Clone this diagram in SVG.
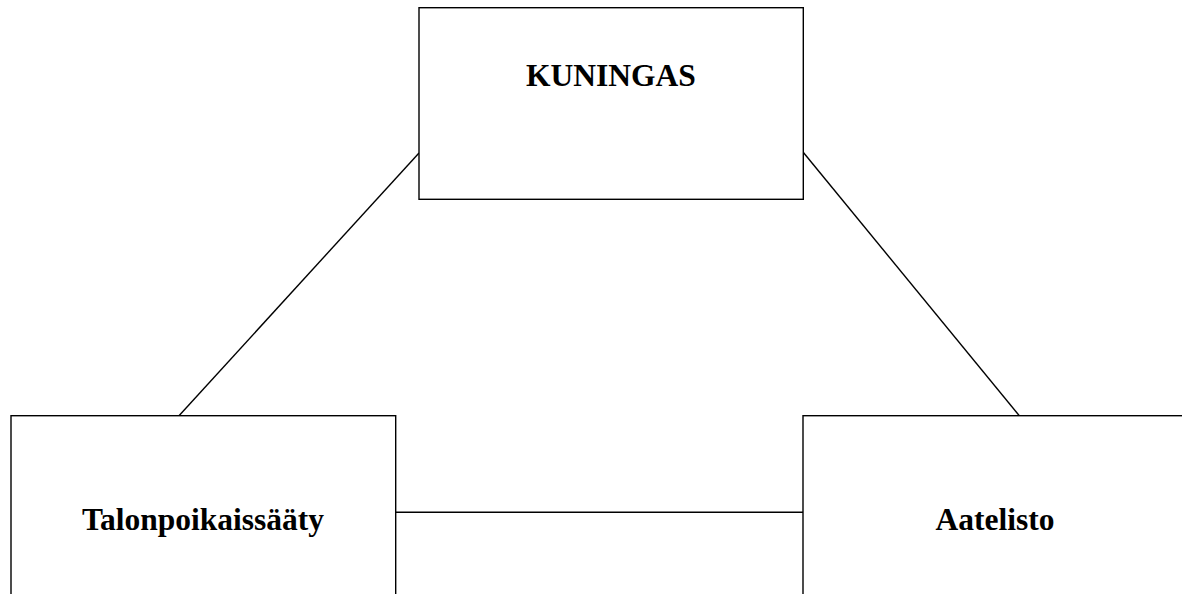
<svg xmlns="http://www.w3.org/2000/svg" width="1182" height="594" viewBox="0 0 1182 594">
<style>
.box{fill:#fff;stroke:#000;stroke-width:1.4}
.lbl{font-family:"Liberation Serif","Times New Roman",serif;font-weight:bold;font-size:31.5px;fill:#000;text-anchor:middle}
.con{stroke:#000;stroke-width:1.4;fill:none}
</style>
<rect width="1182" height="594" fill="#fff"/>
<g id="connectors">
<line class="con" x1="179" y1="415.7" x2="419" y2="153"/>
<line class="con" x1="803" y1="152" x2="1019.3" y2="415.7"/>
<line class="con" x1="395.7" y1="512.3" x2="803" y2="512.3"/>
</g>
<g id="kuningas">
<rect class="box" x="419" y="7.7" width="384.3" height="191.6"/>
<text class="lbl" x="611" y="86">KUNINGAS</text>
</g>
<g id="talonpoikaissaaty">
<rect class="box" x="11" y="415.7" width="384.7" height="200"/>
<text class="lbl" x="203" y="530">Talonpoikaissääty</text>
</g>
<g id="aatelisto">
<rect class="box" x="803" y="415.7" width="384.7" height="200"/>
<text class="lbl" x="995" y="530">Aatelisto</text>
</g>
</svg>
